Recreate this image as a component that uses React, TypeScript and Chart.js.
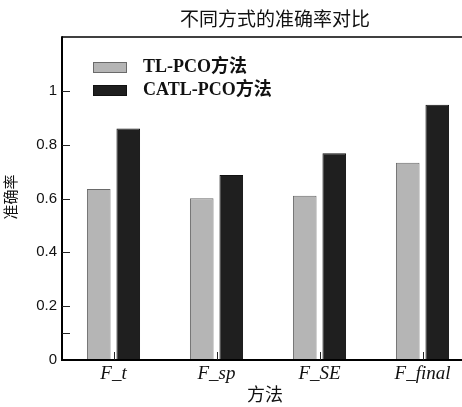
import React, { useEffect, useRef } from "react";
import { Chart, registerables } from "chart.js";

Chart.register(...registerables);

const chartTitle = "不同方式的准确率对比";
const xAxisTitle = "方法";
const yAxisTitle = "准确率";
const categories = ["F_t", "F_sp", "F_SE", "F_final"];
const seriesNames = ["TL-PCO方法", "CATL-PCO方法"];
const tlPco = [0.635, 0.601, 0.61, 0.733];
const catlPco = [0.86, 0.687, 0.768, 0.948];
const yMin = 0;
const yMax = 1.2;
const yStep = 0.2;
const yLabelMax = 1.0;
const minorTicks = [0.1];

const fillColors = ["#b5b5b5", "#1f1f1f"];
const borderColors = ["#6a6a6a", "#111111"];

const CJK = '"Noto Sans CJK SC"';

const decorPlugin = {
  id: "decor",
  afterDatasetsDraw(chart: any) {
    const { ctx, chartArea, scales } = chart;
    const y = scales.y;
    const x = scales.x;
    ctx.save();
    ctx.strokeStyle = "#000";
    // frame
    ctx.lineWidth = 1.6;
    ctx.beginPath();
    ctx.moveTo(chartArea.left, chartArea.top);
    ctx.lineTo(chartArea.right, chartArea.top);
    ctx.stroke();
    ctx.lineWidth = 2;
    ctx.beginPath();
    ctx.moveTo(chartArea.left, chartArea.top - 0.8);
    ctx.lineTo(chartArea.left, chartArea.bottom);
    ctx.lineTo(chartArea.right, chartArea.bottom);
    ctx.stroke();
    ctx.lineWidth = 1;
    ctx.strokeStyle = "#222";
    // y ticks inward
    const tickVals: number[] = y.ticks.map((t: any) => t.value).filter((v: number) => v > yMin + 1e-6 && v <= yLabelMax + 1e-6);
    [...tickVals, ...minorTicks].forEach((v: number) => {
      const py = Math.round(y.getPixelForValue(v)) + 0.5;
      ctx.beginPath();
      ctx.moveTo(chartArea.left, py);
      ctx.lineTo(chartArea.left + 8, py);
      ctx.stroke();
    });
    // x ticks inward
    categories.forEach((_c, i) => {
      const px = Math.round(x.getPixelForValue(i)) + 0.5;
      ctx.beginPath();
      ctx.moveTo(px, chartArea.bottom);
      ctx.lineTo(px, chartArea.bottom - 8);
      ctx.stroke();
    });
    // legend
    const lx = chartArea.left + 31;
    const ly = chartArea.top + 25;
    seriesNames.forEach((name, i) => {
      const by = ly + i * 23;
      ctx.fillStyle = fillColors[i];
      ctx.fillRect(lx, by, 34, 11);
      ctx.strokeStyle = borderColors[i];
      ctx.lineWidth = 1;
      ctx.strokeRect(lx + 0.5, by + 0.5, 33, 10);
      ctx.fillStyle = "#111";
      ctx.font = `bold 18px "Liberation Serif", ${CJK}`;
      ctx.textBaseline = "middle";
      ctx.textAlign = "left";
      ctx.fillText(name, lx + 50, by + 5.5);
    });
    // titles
    ctx.fillStyle = "#111";
    ctx.textAlign = "center";
    ctx.textBaseline = "middle";
    ctx.font = `19px ${CJK}`;
    ctx.fillText(chartTitle, 275, 19);
    ctx.font = `18px ${CJK}`;
    ctx.fillText(xAxisTitle, 265, 394);
    ctx.save();
    ctx.translate(10, 197);
    ctx.rotate(-Math.PI / 2);
    ctx.font = `15px ${CJK}`;
    ctx.fillText(yAxisTitle, 0, 0);
    ctx.restore();
    ctx.restore();
  },
};

export default function App() {
  const ref = useRef<HTMLCanvasElement | null>(null);
  useEffect(() => {
    if (!ref.current) return;
    const chart = new Chart(ref.current, {
      type: "bar",
      data: {
        labels: categories,
        datasets: [
          {
            label: seriesNames[0],
            data: tlPco,
            backgroundColor: fillColors[0],
            borderColor: borderColors[0],
            borderWidth: 1,
          },
          {
            label: seriesNames[1],
            data: catlPco,
            backgroundColor: fillColors[1],
            borderColor: borderColors[1],
            borderWidth: 1,
          },
        ],
      },
      options: {
        responsive: false,
        animation: false,
        devicePixelRatio: 1,
        datasets: { bar: { categoryPercentage: 0.573, barPercentage: 0.8 } },
        layout: { padding: { top: 37, right: 6, left: 0, bottom: 0 } },
        plugins: { legend: { display: false }, title: { display: false }, tooltip: { enabled: false } },
        scales: {
          x: {
            type: "category",
            offset: true,
            grid: { display: false, drawTicks: false },
            border: { display: false },
            ticks: {
              color: "#111",
              font: { family: "Liberation Serif", size: 19, style: "italic" },
              padding: 3,
              maxRotation: 0,
              autoSkip: false,
            },
            afterFit: (s: any) => {
              s.height = 47;
            },
          },
          y: {
            min: yMin,
            max: yMax,
            grid: { display: false, drawTicks: false },
            border: { display: false },
            ticks: {
              stepSize: yStep,
              autoSkip: false,
              color: "#111",
              padding: 5,
              font: { family: "Liberation Sans", size: 15 },
              callback: (v: any) => {
                const n = Number(v);
                if (n > yLabelMax + 1e-6) return "";
                return String(Math.round(n * 10) / 10);
              },
            },
            afterFit: (s: any) => {
              s.width = 62;
            },
          },
        },
      },
      plugins: [decorPlugin],
    });
    return () => chart.destroy();
  }, []);
  return (
    <div style={{ position: "fixed", left: 0, top: 0, width: 462, height: 407, overflow: "hidden", background: "#fff" }}>
      <canvas ref={ref} width={480} height={407} style={{ display: "block", width: 480, height: 407 }} />
    </div>
  );
}
